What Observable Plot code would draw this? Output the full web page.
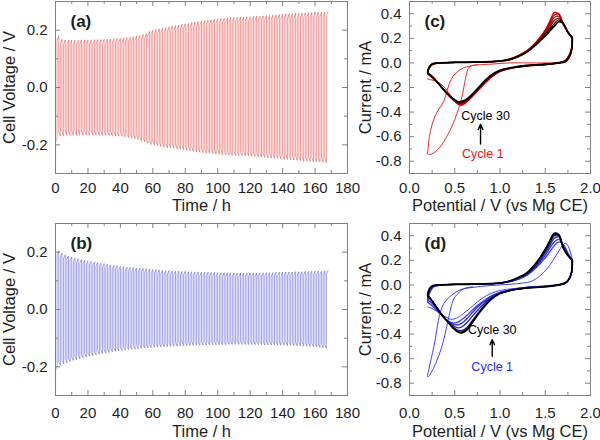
<!DOCTYPE html>
<html><head><meta charset="utf-8">
<script src="https://cdn.jsdelivr.net/npm/d3@7"></script>
<script src="https://cdn.jsdelivr.net/npm/@observablehq/plot@0.6"></script>
<style>
body{margin:0;background:#fff;}
#fig{position:relative;width:600px;height:440px;overflow:hidden;}
#fig > div{position:absolute;}
svg{overflow:visible;}
</style></head><body><div id="fig"></div>
<script>
// ---------- Galvanostatic cycling (a), (b): peak voltage of each 2-h cycle ----------
const cycleHours = 2;
const halfHours = 1;
const aTop = [0.180,0.168,0.166,0.165,0.165,0.165,0.165,0.166,0.166,0.166,
  0.166,0.167,0.167,0.167,0.168,0.168,0.169,0.170,0.171,0.172,
  0.173,0.174,0.176,0.178,0.180,0.182,0.185,0.188,0.196,0.200,
  0.203,0.205,0.207,0.209,0.211,0.214,0.216,0.218,0.220,0.222,
  0.224,0.226,0.228,0.230,0.232,0.234,0.236,0.237,0.239,0.240,
  0.241,0.242,0.243,0.244,0.245,0.245,0.246,0.246,0.247,0.247,
  0.248,0.249,0.249,0.250,0.251,0.252,0.253,0.254,0.255,0.256,
  0.257,0.257,0.258,0.259,0.259,0.260,0.260,0.261,0.261,0.262,
  0.262,0.263,0.263,0.265];
const aBot = [-0.172,-0.170,-0.168,-0.167,-0.167,-0.167,-0.167,-0.167,-0.167,-0.167,
  -0.167,-0.167,-0.167,-0.167,-0.167,-0.167,-0.168,-0.168,-0.169,-0.170,
  -0.171,-0.173,-0.175,-0.177,-0.179,-0.182,-0.186,-0.190,-0.195,-0.199,
  -0.202,-0.204,-0.206,-0.208,-0.210,-0.211,-0.212,-0.214,-0.215,-0.217,
  -0.219,-0.221,-0.223,-0.225,-0.226,-0.228,-0.229,-0.230,-0.231,-0.232,
  -0.233,-0.234,-0.235,-0.236,-0.237,-0.237,-0.238,-0.238,-0.239,-0.239,
  -0.240,-0.241,-0.242,-0.243,-0.244,-0.245,-0.246,-0.247,-0.248,-0.249,
  -0.250,-0.251,-0.252,-0.253,-0.254,-0.255,-0.256,-0.257,-0.258,-0.259,
  -0.260,-0.260,-0.261,-0.262];
const bTop = [0.205,0.196,0.191,0.187,0.183,0.180,0.177,0.174,0.172,0.170,
  0.168,0.166,0.164,0.162,0.160,0.158,0.156,0.154,0.153,0.151,
  0.150,0.148,0.147,0.146,0.145,0.144,0.143,0.142,0.141,0.140,
  0.139,0.138,0.137,0.136,0.136,0.135,0.134,0.134,0.133,0.133,
  0.132,0.132,0.131,0.131,0.130,0.130,0.130,0.129,0.129,0.129,
  0.128,0.128,0.128,0.128,0.127,0.127,0.127,0.127,0.127,0.127,
  0.128,0.128,0.128,0.128,0.129,0.129,0.129,0.130,0.130,0.130,
  0.131,0.131,0.131,0.132,0.132,0.132,0.133,0.133,0.133,0.134,
  0.134,0.134,0.135,0.136];
const bBot = [-0.200,-0.195,-0.190,-0.186,-0.182,-0.178,-0.175,-0.172,-0.169,-0.166,
  -0.163,-0.161,-0.158,-0.156,-0.154,-0.152,-0.150,-0.148,-0.146,-0.145,
  -0.143,-0.142,-0.140,-0.139,-0.138,-0.137,-0.136,-0.135,-0.134,-0.133,
  -0.132,-0.131,-0.131,-0.130,-0.129,-0.129,-0.128,-0.128,-0.127,-0.127,
  -0.126,-0.126,-0.125,-0.125,-0.125,-0.124,-0.124,-0.124,-0.123,-0.123,
  -0.123,-0.123,-0.123,-0.122,-0.122,-0.122,-0.122,-0.122,-0.122,-0.122,
  -0.123,-0.123,-0.123,-0.123,-0.124,-0.124,-0.124,-0.124,-0.125,-0.125,
  -0.125,-0.126,-0.126,-0.126,-0.127,-0.127,-0.128,-0.128,-0.129,-0.130,
  -0.131,-0.132,-0.133,-0.135];
const aTooth = 0.015, bTooth = 0.012;
const aSpikeT = [0, 0, 0.1], aSpikeV = [-0.14, -0.35, -0.19];
const bSpikeT = [0, 0, 0.1], bSpikeV = [0.0, -0.35, -0.21];

// ---------- Cyclic voltammetry (c), (d) ----------
const Vf = [0.2,0.22,0.26,0.35,0.6,0.9,1.0,1.1,1.2,1.3,1.4,1.5,1.55,1.6,1.65,1.7,1.75,1.8];
const Vr = [1.8,1.79,1.76,1.72,1.65,1.5,1.3,1.15,1.0,0.9,0.8,0.7,0.63,0.58,0.54,0.48,0.4,0.32,0.25,0.2];

const cCycles = [2, 4, 8, 14, 21, 30];
const cColors = ["#e00000", "#c00000", "#960808", "#640808", "#380606", "#000000"];
const cFwd = [
  [-0.08,-0.04,-0.01,0.0,0.005,0.01,0.015,0.03,0.06,0.1,0.17,0.27,0.34,0.41,0.40,0.31,0.25,0.21],
  [-0.08,-0.04,-0.01,0.0,0.005,0.01,0.015,0.03,0.058,0.098,0.165,0.26,0.325,0.39,0.395,0.315,0.25,0.21],
  [-0.08,-0.035,-0.008,0.0,0.005,0.01,0.015,0.028,0.056,0.096,0.16,0.25,0.31,0.37,0.38,0.32,0.25,0.205],
  [-0.08,-0.035,-0.007,0.0,0.005,0.01,0.015,0.027,0.054,0.094,0.157,0.24,0.29,0.345,0.365,0.32,0.25,0.205],
  [-0.08,-0.032,-0.006,0.0,0.005,0.01,0.015,0.026,0.052,0.092,0.153,0.23,0.275,0.32,0.35,0.32,0.25,0.2],
  [-0.08,-0.03,-0.005,0.0,0.005,0.01,0.015,0.025,0.05,0.09,0.15,0.22,0.26,0.3,0.335,0.32,0.25,0.2]
];
const cRev = [
  [0.21,0.12,0.06,0.02,0.0,-0.015,-0.025,-0.04,-0.07,-0.12,-0.19,-0.27,-0.32,-0.34,-0.335,-0.3,-0.24,-0.17,-0.12,-0.09],
  [0.21,0.115,0.055,0.018,0.0,-0.014,-0.024,-0.039,-0.068,-0.116,-0.186,-0.266,-0.315,-0.335,-0.332,-0.298,-0.239,-0.169,-0.118,-0.088],
  [0.205,0.11,0.05,0.016,0.0,-0.013,-0.023,-0.038,-0.066,-0.112,-0.182,-0.262,-0.31,-0.33,-0.329,-0.296,-0.238,-0.168,-0.116,-0.086],
  [0.205,0.105,0.047,0.014,0.0,-0.012,-0.022,-0.037,-0.064,-0.108,-0.178,-0.258,-0.305,-0.324,-0.325,-0.294,-0.237,-0.167,-0.114,-0.084],
  [0.2,0.102,0.043,0.012,0.0,-0.011,-0.021,-0.036,-0.062,-0.104,-0.174,-0.254,-0.3,-0.318,-0.32,-0.292,-0.236,-0.166,-0.112,-0.082],
  [0.2,0.1,0.04,0.01,0.0,-0.01,-0.02,-0.035,-0.06,-0.1,-0.17,-0.25,-0.295,-0.312,-0.316,-0.29,-0.235,-0.165,-0.11,-0.08]
];
const c1V = [0.75,0.68,0.65,0.63,0.61,0.59,0.56,0.53,0.49,0.44,0.38,0.32,0.26,0.22,0.2,
  0.205,0.22,0.25,0.29,0.34,0.38,0.41,0.44,0.48,0.53,0.6,0.7,0.9,1.1,1.3,1.5,1.65,1.72,1.76,1.79,1.8,
  1.79,1.76,1.7,1.6,1.45,1.3,1.15,1.0,0.9,0.8,0.7,0.63,0.59,0.55,0.5,0.43,0.36,0.3,0.25,0.2];
const c1I = [-0.015,-0.025,-0.045,-0.09,-0.16,-0.24,-0.33,-0.4,-0.48,-0.56,-0.64,-0.7,-0.735,-0.745,-0.74,
  -0.7,-0.6,-0.5,-0.42,-0.36,-0.31,-0.24,-0.17,-0.11,-0.07,-0.04,-0.02,-0.01,0.0,0.0,0.0,0.0,0.01,0.04,0.1,0.18,
  0.1,0.045,0.015,0.0,-0.015,-0.025,-0.04,-0.07,-0.12,-0.19,-0.27,-0.32,-0.345,-0.345,-0.31,-0.24,-0.18,-0.15,-0.14,-0.13];

const dCycles = [2, 3, 5, 10, 20, 30];
const dColors = ["#3a3aff", "#2c2ce0", "#2020b4", "#141480", "#08084a", "#000000"];
const dFwd = [
  [-0.14,-0.07,-0.02,0.0,0.005,0.01,0.015,0.025,0.045,0.08,0.14,0.22,0.27,0.32,0.35,0.33,0.26,0.2],
  [-0.12,-0.06,-0.015,0.0,0.005,0.01,0.015,0.026,0.048,0.085,0.15,0.24,0.3,0.35,0.37,0.32,0.25,0.2],
  [-0.1,-0.05,-0.012,0.0,0.005,0.01,0.015,0.028,0.052,0.09,0.16,0.26,0.32,0.38,0.39,0.31,0.25,0.2],
  [-0.09,-0.04,-0.008,0.0,0.005,0.01,0.015,0.029,0.056,0.095,0.17,0.275,0.34,0.4,0.4,0.305,0.245,0.2],
  [-0.085,-0.035,-0.006,0.0,0.005,0.01,0.015,0.03,0.058,0.098,0.175,0.285,0.35,0.41,0.405,0.3,0.24,0.2],
  [-0.08,-0.03,-0.005,0.0,0.005,0.01,0.015,0.03,0.06,0.1,0.18,0.29,0.36,0.42,0.41,0.3,0.24,0.2]
];
const dRev = [
  [0.2,0.1,0.04,0.012,0.0,-0.01,-0.02,-0.035,-0.06,-0.09,-0.14,-0.2,-0.25,-0.28,-0.3,-0.31,-0.28,-0.22,-0.17,-0.14],
  [0.2,0.1,0.042,0.013,0.0,-0.011,-0.021,-0.036,-0.062,-0.095,-0.15,-0.22,-0.28,-0.31,-0.325,-0.32,-0.28,-0.21,-0.15,-0.12],
  [0.2,0.1,0.043,0.014,0.0,-0.012,-0.022,-0.037,-0.065,-0.105,-0.17,-0.25,-0.31,-0.34,-0.35,-0.33,-0.28,-0.2,-0.13,-0.1],
  [0.2,0.1,0.044,0.015,0.0,-0.013,-0.024,-0.039,-0.068,-0.113,-0.19,-0.285,-0.35,-0.37,-0.37,-0.34,-0.28,-0.205,-0.13,-0.09],
  [0.2,0.1,0.045,0.015,0.0,-0.014,-0.025,-0.04,-0.07,-0.117,-0.197,-0.295,-0.362,-0.383,-0.382,-0.35,-0.28,-0.21,-0.13,-0.086],
  [0.2,0.1,0.045,0.015,0.0,-0.015,-0.025,-0.04,-0.07,-0.12,-0.2,-0.3,-0.37,-0.39,-0.385,-0.35,-0.28,-0.21,-0.13,-0.085]
];
const d1V = [0.7,0.6,0.55,0.5,0.47,0.45,0.42,0.39,0.35,0.3,0.25,0.21,0.2,
  0.21,0.24,0.27,0.29,0.31,0.33,0.36,0.4,0.47,0.56,0.7,0.9,1.1,1.25,1.35,1.45,1.55,1.62,1.68,1.72,1.75,1.78,1.8,
  1.79,1.76,1.7,1.6,1.45,1.3,1.15,1.0,0.9,0.8,0.7,0.6,0.52,0.46,0.4,0.33,0.27,0.23,0.2];
const d1I = [-0.015,-0.03,-0.06,-0.1,-0.15,-0.21,-0.31,-0.41,-0.52,-0.62,-0.7,-0.745,-0.745,
  -0.7,-0.6,-0.5,-0.42,-0.33,-0.25,-0.18,-0.13,-0.08,-0.04,-0.02,-0.005,0.005,0.015,0.03,0.08,0.16,0.24,0.31,0.34,0.32,0.26,0.2,
  0.1,0.045,0.015,0.0,-0.01,-0.018,-0.03,-0.045,-0.07,-0.11,-0.17,-0.23,-0.27,-0.28,-0.26,-0.23,-0.2,-0.185,-0.18];

// annotations: [potential, current]
const cLabel30 = [0.84, -0.43], cLabel1 = [0.81, -0.745], cArrow = [0.785, -0.66, -0.5];
const dLabel30 = [0.914, -0.363], dLabel1 = [0.914, -0.668], dArrow = [0.914, -0.58, -0.446];

// tick values
const timeMajor = [0,20,40,60,80,100,120,140,160,180];
const timeMinor = [10,30,50,70,90,110,130,150,170];
const voltMajor = [-0.2,0.0,0.2];
const voltMinor = [-0.1,0.1];
const potMajor = [0,0.5,1.0,1.5,2.0];
const potMinor = [0.25,0.75,1.25,1.75];
const curMajor = [-0.8,-0.6,-0.4,-0.2,0.0,0.2,0.4];
const curMinor = [-0.7,-0.5,-0.3,-0.1,0.1,0.3];

// ---------- drawing ----------
const FONT = '"Liberation Sans", Arial, Helvetica, sans-serif';
const frameColor = "#808080";
const textColor = "#1e1e1e";
const fmt1 = d => d.toFixed(1);
const fmt0 = d => String(d);

function galvanoRows(top, bot, tooth, spikeT, spikeV) {
  const rows = spikeT.map((t, i) => ({t, v: spikeV[i]}));
  top.forEach((p, k) => {
    const t0 = k * cycleHours;
    if (k > 0) rows.push({t: t0, v: bot[k] + tooth});
    rows.push({t: t0 + halfHours, v: bot[k]});
    rows.push({t: t0 + halfHours, v: p - tooth});
    rows.push({t: t0 + cycleHours, v: p});
  });
  return rows;
}
function loopRows(fwd, rev) {
  return Vf.map((V, j) => ({V, I: fwd[j]})).concat(Vr.map((V, j) => ({V, I: rev[j]})));
}

function panel(cfg) {
  const {width, height, mL, mR, mT, mB} = cfg;
  const H = height - mT - mB, W = width - mL - mR;
  const tick = {stroke: frameColor, strokeWidth: 1};
  const marks = [
    ...cfg.marks,
    Plot.frame({stroke: frameColor, strokeWidth: 1}),
    Plot.tickX(cfg.xMajor, {x: d => d, insetTop: H - 5, ...tick}),
    Plot.tickX(cfg.xMajor, {x: d => d, insetBottom: H - 5, ...tick}),
    Plot.tickX(cfg.xMinor, {x: d => d, insetTop: H - 3, ...tick}),
    Plot.tickX(cfg.xMinor, {x: d => d, insetBottom: H - 3, ...tick}),
    Plot.tickY(cfg.yMajor, {y: d => d, insetRight: W - 5, ...tick}),
    Plot.tickY(cfg.yMajor, {y: d => d, insetLeft: W - 5, ...tick}),
    Plot.tickY(cfg.yMinor, {y: d => d, insetRight: W - 3, ...tick}),
    Plot.tickY(cfg.yMinor, {y: d => d, insetLeft: W - 3, ...tick}),
    Plot.axisX(cfg.xMajor, {tickSize: 0, tickPadding: cfg.xPad, tickFormat: cfg.xFmt, label: null, fontSize: 15, fill: textColor}),
    Plot.axisY(cfg.yMajor, {tickSize: 0, tickPadding: 8, tickFormat: cfg.yFmt, label: null, fontSize: 15, fill: textColor}),
    Plot.text([cfg.xTitle], {text: d => d, frameAnchor: "bottom", dy: cfg.xTitleDy, fontSize: 16.5, fill: textColor,
      textAnchor: "middle", lineAnchor: "middle"}),
    Plot.text([cfg.yTitle], {text: d => d, frameAnchor: "left", dx: cfg.yTitleDx, rotate: -90, fontSize: 16.5, fill: textColor,
      textAnchor: "middle", lineAnchor: "middle"}),
    Plot.text([cfg.tag], {text: d => d, frameAnchor: "top-left", dx: 15, dy: 20, fontSize: 17, fontWeight: "bold",
      textAnchor: "start", lineAnchor: "middle", fill: textColor})
  ];
  const svg = Plot.plot({
    width, height, marginLeft: mL, marginRight: mR, marginTop: mT, marginBottom: mB,
    x: {domain: cfg.xDomain}, y: {domain: cfg.yDomain},
    style: {fontFamily: FONT, color: textColor, background: "transparent", overflow: "visible"},
    marks
  });
  const div = document.createElement("div");
  div.style.left = cfg.left + "px";
  div.style.top = cfg.top + "px";
  div.appendChild(svg);
  document.getElementById("fig").appendChild(div);
}

function rowLayout(top) {
  return top === 0
    ? {height: 220, mT: 1, mB: 47, xPad: 9, xTitleDy: 32}
    : {height: 218, mT: 1, mB: 45, xPad: 12, xTitleDy: 36};
}

function galvanoPanel(top, tag, rows, color) {
  panel({
    left: 0, top, width: 352, mL: 55, mR: 5, ...rowLayout(top),
    xDomain: [0, 180], yDomain: [-0.3, 0.3],
    xMajor: timeMajor, xMinor: timeMinor, yMajor: voltMajor, yMinor: voltMinor,
    xFmt: fmt0, yFmt: fmt1, xTitle: "Time / h", yTitle: "Cell Voltage / V", yTitleDx: -46, tag,
    marks: [Plot.line(rows, {x: "t", y: "v", stroke: color, strokeWidth: 0.5, clip: true})]
  });
}

function cvPanel(top, tag, cycles, colors, fwd, rev, v1, i1, c1color, lab30, lab1, arrow) {
  const marks = [
    Plot.line(v1.map((V, j) => ({V, I: i1[j]})), {x: "V", y: "I", stroke: c1color, strokeWidth: 0.9, curve: "catmull-rom"})
  ];
  cycles.forEach((c, i) => {
    marks.push(Plot.line(loopRows(fwd[i], rev[i]), {x: "V", y: "I", stroke: colors[i],
      strokeWidth: i === cycles.length - 1 ? 1.7 : 1.3, curve: "catmull-rom"}));
  });
  marks.push(
    Plot.text(["Cycle 30"], {x: [lab30[0]], y: [lab30[1]], text: d => d, fontSize: 12.5, fill: "#000"}),
    Plot.text(["Cycle 1"], {x: [lab1[0]], y: [lab1[1]], text: d => d, fontSize: 12.5, fill: c1color}),
    Plot.arrow([arrow], {x1: d => d[0], y1: d => d[1], x2: d => d[0], y2: d => d[2], stroke: "#000", strokeWidth: 1.4, headLength: 6, headAngle: 50})
  );
  panel({
    left: 345, top, width: 255, mL: 64, mR: 10, ...rowLayout(top),
    xDomain: [0, 2.0], yDomain: [-0.9, 0.5],
    xMajor: potMajor, xMinor: potMinor, yMajor: curMajor, yMinor: curMinor,
    xFmt: fmt1, yFmt: fmt1, xTitle: "Potential / V (vs Mg CE)", yTitle: "Current / mA", yTitleDx: -44, tag, marks
  });
}

galvanoPanel(0, "(a)", galvanoRows(aTop, aBot, aTooth, aSpikeT, aSpikeV), "#e63a3a");
galvanoPanel(222, "(b)", galvanoRows(bTop, bBot, bTooth, bSpikeT, bSpikeV), "#4848d0");
cvPanel(0, "(c)", cCycles, cColors, cFwd, cRev, c1V, c1I, "#ee1111", cLabel30, cLabel1, cArrow);
cvPanel(222, "(d)", dCycles, dColors, dFwd, dRev, d1V, d1I, "#2a2aff", dLabel30, dLabel1, dArrow);
</script></body></html>
